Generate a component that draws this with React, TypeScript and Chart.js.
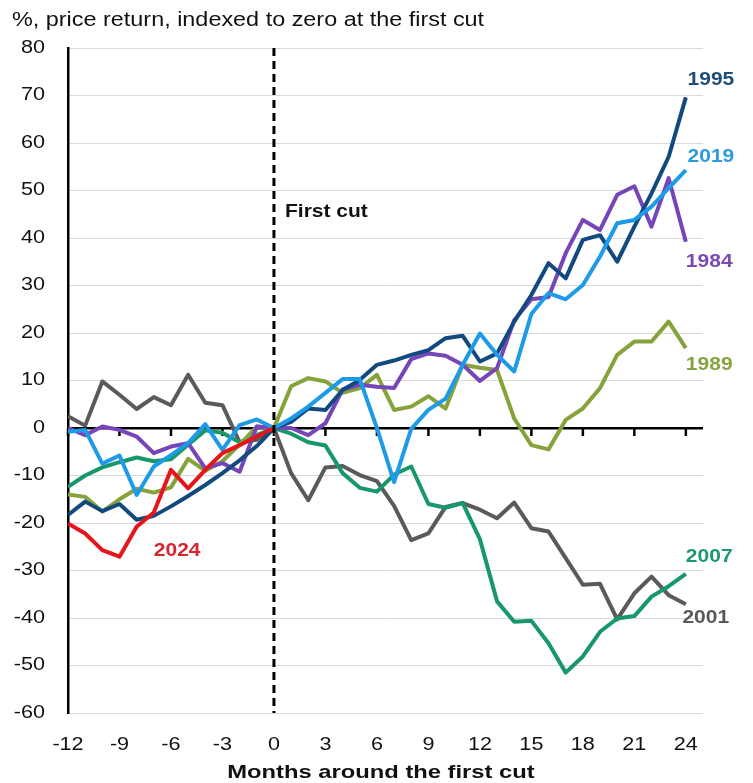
import React, { useEffect, useRef } from "react";
import { Chart, registerables } from "chart.js";

Chart.register(...registerables);

const months = [-12, -11, -10, -9, -8, -7, -6, -5, -4, -3, -2, -1, 0, 1, 2, 3, 4, 5, 6, 7, 8, 9, 10, 11, 12, 13, 14, 15, 16, 17, 18, 19, 20, 21, 22, 23, 24];

const s1995 = [-18.3, -15.5, -17.5, -16, -19.3, -18.5, -16.5, -14.3, -12, -9.5, -6.8, -3.8, 0, 1.3, 4.1, 3.8, 8, 10.1, 13.3, 14.2, 15.4, 16.4, 18.9, 19.4, 14, 15.7, 22.4, 28, 34.7, 31.5, 39.6, 40.6, 35, 42.4, 49.4, 57.1, 69.6];
const s2019 = [-0.8, -0.4, -7.5, -5.8, -14.1, -8.1, -5.7, -3.2, 0.8, -4.6, 0.6, 1.8, 0, 2, 4.5, 7.4, 10.3, 10.3, 0, -11.4, -0.2, 3.8, 6.2, 13.3, 19.9, 15.4, 11.9, 24, 28.4, 27.1, 30.1, 36.1, 43.1, 43.8, 46.6, 50.5, 54.3];
const s1984 = [0, -1.5, 0.3, -0.4, -1.8, -5.3, -3.9, -3.2, -8.5, -7.4, -9.2, 0.3, 0, 0, -1.5, 1, 8.1, 9.1, 8.7, 8.4, 14.5, 15.7, 15.2, 13.3, 9.9, 12.6, 22.7, 27.1, 27.6, 36.8, 43.8, 41.7, 49.1, 50.9, 42.4, 52.6, 39.2];
const s1989 = [-14, -14.5, -17.6, -15, -12.8, -13.6, -12.5, -6.5, -9, -7, -3.5, 0.3, 0, 8.8, 10.5, 9.8, 7.4, 8.4, 11.2, 3.8, 4.5, 6.7, 4.1, 13.3, 12.7, 12.2, 2, -3.6, -4.5, 1.7, 4.1, 8.4, 15.4, 18.2, 18.2, 22.4, 16.8];
const s2007 = [-12.4, -10, -8.3, -7.2, -6.2, -7, -6.6, -3.5, -0.5, -1, -3, -1.5, 0, -1.2, -3, -3.7, -9.5, -12.6, -13.4, -9.8, -8.1, -16, -16.8, -15.8, -23.4, -36.5, -40.8, -40.6, -45.3, -51.5, -48.1, -42.9, -40.1, -39.6, -35.5, -33.3, -30.7];
const s2001 = [2.5, 0.5, 9.8, 7, 4, 6.5, 4.8, 11.2, 5.3, 4.8, -3, -2.5, 0, -9.5, -15.2, -8.3, -8, -9.9, -11.2, -16.4, -23.6, -22.2, -16.6, -15.8, -17.2, -19, -15.7, -21.1, -21.8, -27.4, -33, -32.8, -40.3, -34.8, -31.3, -35.2, -37.1];
const s2024 = [-20.1, -22.2, -25.7, -27.1, -20.8, -17.8, -8.8, -12.7, -8.8, -5.3, -3.6, -1.8, 0];

const xTicks = [-12, -9, -6, -3, 0, 3, 6, 9, 12, 15, 18, 21, 24];
const yTicks = [-60, -50, -40, -30, -20, -10, 0, 10, 20, 30, 40, 50, 60, 70, 80];

const subtitle = "%, price return, indexed to zero at the first cut";
const xTitle = "Months around the first cut";
const cutLabel = "First cut";

const seriesLabels = [
  { text: "1995", color: "#1f4e79", m: 24.1, v: 73.2 },
  { text: "2019", color: "#2a9be0", m: 24.1, v: 57.0 },
  { text: "1984", color: "#7a4bb3", m: 24.0, v: 34.9 },
  { text: "1989", color: "#86a53f", m: 24.0, v: 13.3 },
  { text: "2007", color: "#1e9a6e", m: 24.0, v: -27.2 },
  { text: "2001", color: "#595959", m: 23.8, v: -40.0 },
  { text: "2024", color: "#d7262e", m: -7.0, v: -26.0 },
];

const FONT = "'Liberation Sans', Arial, sans-serif";
const SX = 1.2;

function stretchText(ctx: CanvasRenderingContext2D, text: string, x: number, y: number, align: CanvasTextAlign, font: string, color: string, sx = SX) {
  ctx.save();
  ctx.translate(x, y);
  ctx.scale(sx, 1);
  ctx.font = font;
  ctx.fillStyle = color;
  ctx.textAlign = align;
  ctx.textBaseline = "middle";
  ctx.fillText(text, 0, 0);
  ctx.restore();
}

const pts = (vals: number[]) => vals.map((v, i) => ({ x: months[i], y: v }));

export default function App() {
  const ref = useRef<HTMLCanvasElement | null>(null);

  useEffect(() => {
    if (!ref.current) return;
    const decor = {
      id: "decor",
      beforeDatasetsDraw(chart: any) {
        const ctx = chart.ctx as CanvasRenderingContext2D;
        const xs = chart.scales.x;
        const ys = chart.scales.y;
        const y0 = ys.getPixelForValue(0);
        ctx.save();
        ctx.strokeStyle = "#000";
        ctx.lineWidth = 2.5;
        xTicks.forEach((t) => {
          const px = xs.getPixelForValue(t);
          ctx.beginPath();
          ctx.moveTo(px, y0);
          ctx.lineTo(px, y0 + 8);
          ctx.stroke();
        });
        ctx.restore();
      },
      afterDatasetsDraw(chart: any) {
        const ctx = chart.ctx as CanvasRenderingContext2D;
        const xs = chart.scales.x;
        const ys = chart.scales.y;
        const area = chart.chartArea;
        const px0 = xs.getPixelForValue(0);
        ctx.save();
        ctx.strokeStyle = "#000";
        ctx.lineWidth = 3;
        ctx.setLineDash([8, 5]);
        ctx.beginPath();
        ctx.moveTo(px0, area.top);
        ctx.lineTo(px0, area.bottom);
        ctx.stroke();
        ctx.restore();

        yTicks.forEach((t) => {
          stretchText(ctx, String(t), 45, ys.getPixelForValue(t), "right", `18px ${FONT}`, "#111");
        });
        xTicks.forEach((t) => {
          stretchText(ctx, String(t), xs.getPixelForValue(t), 745, "center", `18px ${FONT}`, "#111");
        });
        stretchText(ctx, subtitle, 12, 21, "left", `19.5px ${FONT}`, "#111");
        stretchText(ctx, xTitle, 381, 773, "center", `bold 19px ${FONT}`, "#111", 1.25);
        stretchText(ctx, cutLabel, 285, 212, "left", `bold 17.5px ${FONT}`, "#111");
        seriesLabels.forEach((l) => {
          stretchText(ctx, l.text, xs.getPixelForValue(l.m), ys.getPixelForValue(l.v), "left", `bold 17.5px ${FONT}`, l.color);
        });
      },
    };

    const mk = (label: string, vals: number[], color: string) => ({
      label,
      data: pts(vals),
      borderColor: color,
      backgroundColor: color,
      borderWidth: 4,
      pointRadius: 0,
      tension: 0,
      borderJoinStyle: "round" as const,
      fill: false,
    });

    const chart = new Chart(ref.current, {
      type: "line",
      data: {
        datasets: [
          mk("2024", s2024, "#e8141c"),
          mk("2019", s2019, "#1e9be8"),
          mk("1995", s1995, "#124a80"),
          mk("1984", s1984, "#7646b8"),
          mk("1989", s1989, "#86a33b"),
          mk("2007", s2007, "#17986b"),
          mk("2001", s2001, "#5a5a5a"),
        ],
      },
      options: {
        animation: false,
        responsive: false,
        devicePixelRatio: 1,
        layout: { padding: { top: 48, right: 50, left: 0, bottom: 0 } },
        plugins: { legend: { display: false }, tooltip: { enabled: false }, title: { display: false } },
        scales: {
          x: {
            type: "linear",
            min: -12,
            max: 25,
            afterBuildTicks: (s: any) => {
              s.ticks = xTicks.map((v) => ({ value: v }));
            },
            afterFit: (s: any) => {
              s.height = 70;
            },
            ticks: { display: false },
            grid: { display: false },
            border: { display: false },
          },
          y: {
            type: "linear",
            min: -60,
            max: 80,
            afterBuildTicks: (s: any) => {
              s.ticks = yTicks.map((v) => ({ value: v }));
            },
            afterFit: (s: any) => {
              s.width = 68;
            },
            ticks: { display: false },
            grid: {
              drawTicks: false,
              color: (c: any) => (c.tick && c.tick.value === 0 ? "#000" : "#d9d9d9"),
              lineWidth: (c: any) => (c.tick && c.tick.value === 0 ? 2.5 : 1),
            },
            border: { display: true, color: "#000", width: 2.5 },
          },
        },
      },
      plugins: [decor],
    });
    return () => chart.destroy();
  }, []);

  return (
    <div style={{ position: "fixed", left: 0, top: 0, width: 753, height: 783, background: "#fff" }}>
      <canvas ref={ref} width={753} height={783} style={{ width: 753, height: 783, display: "block" }} />
    </div>
  );
}
